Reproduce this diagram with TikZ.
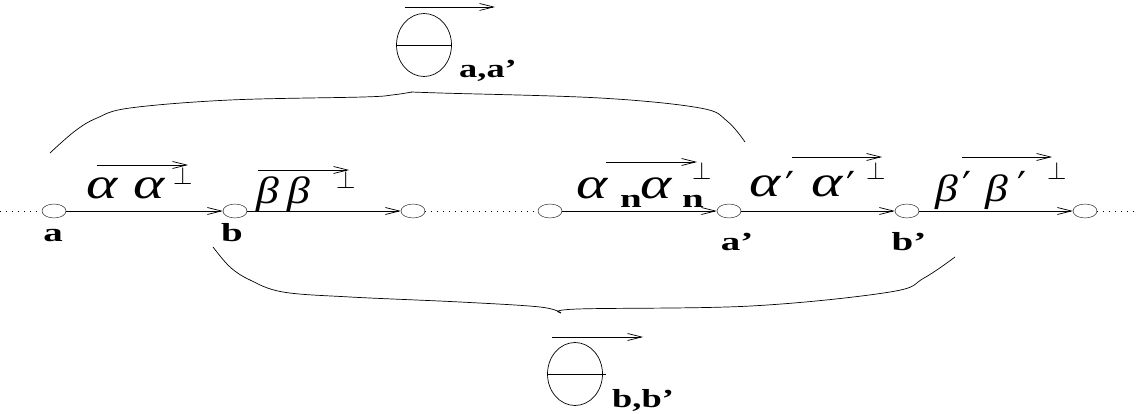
\documentclass[tikz,border=0pt]{standalone}
\usepackage{fontspec}
\setmainfont{Liberation Serif}
\newfontfamily\djv{DejaVu Serif}
\usetikzlibrary{arrows.meta,shapes.geometric}
\newcommand{\wide}[2]{\scalebox{#1}[1]{#2}}
\begin{document}
\begin{tikzpicture}[x=1pt,y=-1pt,
  vtx/.style={draw,ellipse,minimum width=24pt,minimum height=14pt,inner sep=0pt},
  lbl/.style={anchor=base,inner sep=0pt,font=\fontsize{26}{26}\selectfont\bfseries},
  gr/.style={anchor=base west,inner sep=0pt,font=\fontsize{44}{44}\selectfont\itshape},
  grb/.style={anchor=base west,inner sep=0pt,font=\fontsize{38}{38}\selectfont\itshape},
  pr/.style={anchor=base west,inner sep=0pt,font=\djv\fontsize{40}{40}\selectfont},
  pe/.style={anchor=base west,inner sep=0pt,font=\fontsize{24}{24}\selectfont},
  sub/.style={anchor=base west,inner sep=0pt,font=\fontsize{26}{26}\selectfont\bfseries},
  edge/.style={line width=0.7pt,-{Straight Barb[length=14pt,width=7pt,line width=0.7pt]}},
  over/.style={line width=0.7pt,-{Straight Barb[length=14pt,width=7pt,line width=0.7pt]}},
  dots/.style={line width=0.8pt,dash pattern=on 1pt off 5pt},
  brace/.style={line width=0.7pt},
  theta/.style={draw,ellipse,minimum width=55pt,minimum height=63pt,inner sep=0pt,line width=0.7pt}]
\useasboundingbox (0,0) rectangle (1139,414);
% vertices
\node[vtx] (n1) at (54,211) {};
\node[vtx] (n2) at (235,211) {};
\node[vtx] (n3) at (413,211) {};
\node[vtx] (n4) at (550,211) {};
\node[vtx] (n5) at (729,211) {};
\node[vtx] (n6) at (907,211) {};
\node[vtx] (n7) at (1085,211) {};
\coordinate (L) at (0,211);
\coordinate (R) at (1139,211);
% connectors
\draw[dots] (L) -- (n1.west);
\draw[dots] (n3.east) -- (n4.west);
\draw[dots] (n7.east) -- (R);
\draw[edge] (n1) -- (n2);
\draw[edge] (n2) -- (n3);
\draw[edge] (n4) -- (n5);
\draw[edge] (n5) -- (n6);
\draw[edge] (n6) -- (n7);
% vertex labels
\node[lbl] (la) at (53,241) {\wide{1.5}{a}};
\node[lbl] (lb) at (232,241) {\wide{1.5}{b}};
\node[lbl] (lap) at (737,250) {\wide{1.5}{a’}};
\node[lbl] (lbp) at (909,250) {\wide{1.5}{b’}};
% edge label 1
\node[gr] (g1a) at (86,198) {\wide{1.35}{α}};
\node[gr] (g1b) at (133,198) {\wide{1.35}{α}};
\node[pe] (g1p) at (173,184) {$\perp$};
% edge label 2
\node[grb] (g2a) at (256,203) {\wide{1.2}{β}};
\node[grb] (g2b) at (287,203) {\wide{1.2}{β}};
\node[pe] (g2p) at (336,188) {$\perp$};
% edge label 3
\node[gr] (g3a) at (576,198) {\wide{1.35}{α}};
\node[sub] (g3n) at (620,207) {\wide{1.5}{n}};
\node[gr] (g3b) at (640,198) {\wide{1.35}{α}};
\node[sub] (g3m) at (682,207) {\wide{1.5}{n}};
\node[pe] (g3p) at (692,179) {$\perp$};
% edge label 4
\node[gr] (g4a) at (749,196) {\wide{1.35}{α}};
\node[pr] (g4q) at (785,200) {′};
\node[gr] (g4b) at (811,196) {\wide{1.35}{α}};
\node[pr] (g4r) at (846,200) {′};
\node[pe] (g4p) at (866,179) {$\perp$};
% edge label 5
\node[grb] (g5a) at (935,201) {\wide{1.2}{β}};
\node[pr] (g5q) at (962,200) {′};
\node[grb] (g5b) at (985,201) {\wide{1.2}{β}};
\node[pr] (g5r) at (1017,200) {′};
\node[pe] (g5p) at (1047,179) {$\perp$};
% over arrows
\coordinate (o1a) at (97,165); \coordinate (o1b) at (188,165);
\coordinate (o2a) at (258,170); \coordinate (o2b) at (349,170);
\coordinate (o3a) at (606,162); \coordinate (o3b) at (697,162);
\coordinate (o4a) at (792,157); \coordinate (o4b) at (882,157);
\coordinate (o5a) at (962,157); \coordinate (o5b) at (1052,157);
\draw[over] (o1a) -- (o1b);
\draw[over] (o2a) -- (o2b);
\draw[over] (o3a) -- (o3b);
\draw[over] (o4a) -- (o4b);
\draw[over] (o5a) -- (o5b);
% braces
\draw[brace] plot[smooth,tension=0.6] coordinates {(50,153) (75,131) (97,118) (130,108) (230,100) (363,97) (392,95) (412,92)};
\draw[brace] plot[smooth,tension=0.6] coordinates {(412,92) (440,93) (600,98) (700,108) (727,121) (745,142)};
\draw[brace] plot[smooth,tension=0.6] coordinates {(213,247) (230,267) (250,280) (283,292) (350,297) (460,302) (540,307) (561,313)};
\draw[brace] plot[smooth,tension=0.6] coordinates {(561,313) (578,309) (751,306) (890,292) (924,278) (955,257)};
% thetas
\node[theta] (thA) at (424,45) {};
\draw[line width=0.7pt] (thA.west) -- (thA.east);
\coordinate (tAa) at (405,7); \coordinate (tAb) at (495,7);
\draw[over] (tAa) -- (tAb);
\node[lbl,anchor=base west] (tlA) at (459,78) {\wide{1.4}{a,a’}};
\node[theta] (thB) at (575,374) {};
\coordinate (thBr) at (606,374);
\draw[line width=0.7pt] (thB.west) -- (thBr);
\coordinate (tBa) at (552,337); \coordinate (tBb) at (643,337);
\draw[over] (tBa) -- (tBb);
\node[lbl,anchor=base west] (tlB) at (612,407) {\wide{1.4}{b,b’}};
\end{tikzpicture}
\end{document}
